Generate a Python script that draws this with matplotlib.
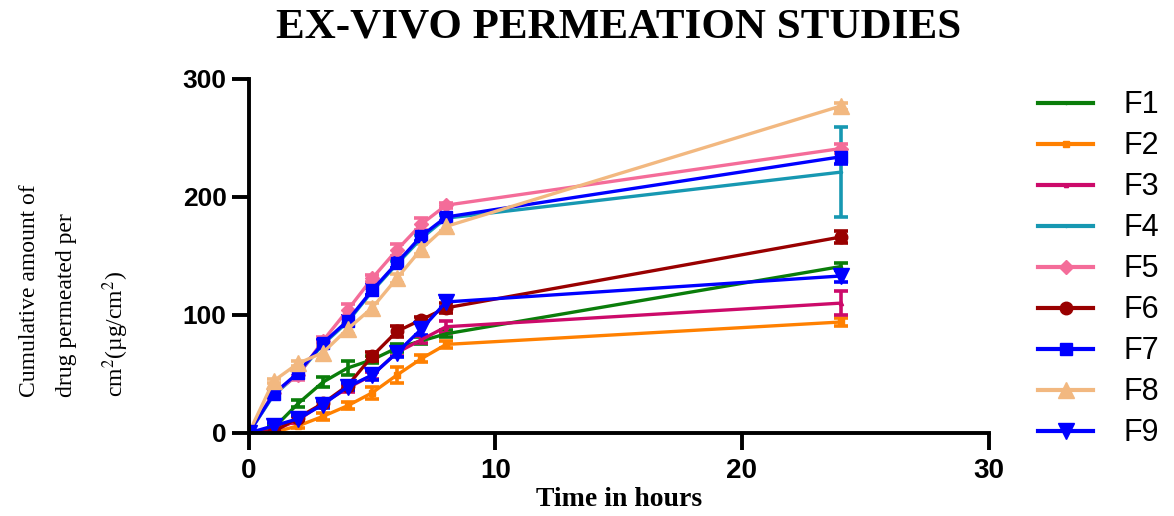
import numpy as np
import matplotlib
matplotlib.use("Agg")
import matplotlib.pyplot as plt
from matplotlib.lines import Line2D

# sampling times (h)
hours = [0, 1, 2, 3, 4, 5, 6, 7, 8, 24]

# cumulative amount permeated (ug/cm2)
f1 = [0, 4, 25, 43, 55, 62, 72, 78, 84, 141]
f2 = [0, 0.5, 6, 14, 23, 34, 49, 63, 75, 94]
f3 = [0, 2, 11, 25, 38, 49, 68, 79, 90, 110]
f4 = [0, 32, 50, 75, 94, 120, 143, 165, 182, 221]
f5 = [0, 34, 49, 78, 104, 131, 155, 177, 193, 241]
f6 = [0, 1, 13, 25, 40, 65, 86, 96, 106, 166]
f7 = [0, 33, 51, 76, 95, 121, 144, 167, 183, 234]
f8 = [0, 44, 59, 68, 88, 106, 131, 156, 175, 277]
f9 = [0, 6, 12, 24, 39, 49, 68, 88, 111, 133]

# standard deviations
e1 = [0, 2, 3, 4, 6, 3, 3, 3, 3, 3]
e2 = [0, 1, 2, 3, 3, 5, 7, 3, 3, 3]
e3 = [0, 1, 3, 3, 3, 3, 3, 3, 5, 10]
e4 = [0, 2, 3, 3, 3, 3, 3, 3, 3, 38]
e5 = [0, 2, 4, 3, 5, 3, 5, 5, 2, 4]
e6 = [0, 2, 4, 3, 3, 4, 5, 2, 4, 5]
e7 = [0, 3, 3, 3, 4, 4, 4, 4, 3, 6]
e8 = [0, 2, 2, 6, 4, 4, 4, 4, 4, 3]
e9 = [0, 2, 2, 3, 3, 4, 4, 5, 4, 5]

names = ["F1", "F2", "F3", "F4", "F5", "F6", "F7", "F8", "F9"]
series = [f1, f2, f3, f4, f5, f6, f7, f8, f9]
errors = [e1, e2, e3, e4, e5, e6, e7, e8, e9]
colors = ["#0a7d0a", "#ff8000", "#cc0a6a", "#1798b2", "#f46c99",
          "#990000", "#0000ff", "#f2b880", "#0000ff"]
markers = [".", "s", "^", ".", "D", "o", "s", "^", "v"]
msizes = [3, 4, 3, 3, 7, 9, 9, 11, 11]

fig = plt.figure(figsize=(11.74, 5.16), dpi=100)
ax = fig.add_axes([0.212, 0.161, 0.630, 0.686])

for y, err, c, m, ms in zip(series, errors, colors, markers, msizes):
    ax.errorbar(hours, y, yerr=err, color=c, marker=m, markersize=ms,
                linewidth=2.4, elinewidth=2.6, capsize=5, capthick=2.6)

ax.set_xlim(0, 30)
ax.set_ylim(0, 300)
ax.set_xticks([0, 10, 20, 30])
ax.set_yticks([0, 100, 200, 300])
for s in ["top", "right"]:
    ax.spines[s].set_visible(False)
for s in ["left", "bottom"]:
    ax.spines[s].set_linewidth(2.8)
ax.tick_params(width=2.8, length=12, pad=4)
ax.tick_params(axis="y", labelsize=19)
ax.tick_params(axis="x", labelsize=20, pad=6)
for lbl in ax.get_xticklabels() + ax.get_yticklabels():
    lbl.set_fontweight("bold")
    lbl.set_family("Liberation Sans")

ax.set_title("EX-VIVO PERMEATION STUDIES", fontsize=31, fontweight="bold",
             family="Liberation Serif", pad=30)
ax.set_xlabel("Time in hours", fontsize=20, fontweight="bold",
              family="Liberation Serif", labelpad=2)
ylab = fig.text(0.064, 0.231,
                "Cumulative amount of\ndrug permeated per\ncm$^2$(\u00b5g/cm$^2$)",
                rotation=90, ha="center", va="bottom", multialignment="left",
                fontsize=17, family="Liberation Serif", linespacing=2.0)
ylab.set_math_fontfamily("stix")

handles = [Line2D([], [], color=c, marker=m, markersize=ms, linewidth=3)
           for c, m, ms in zip(colors, markers, msizes)]
fig.legend(handles, names, loc="upper left", bbox_to_anchor=(0.861, 0.878),
           frameon=False, prop={"family": "Liberation Sans", "size": 22},
           handlelength=1.8, handletextpad=1.0, labelspacing=0.36)

fig.savefig("out.png", dpi=100)
